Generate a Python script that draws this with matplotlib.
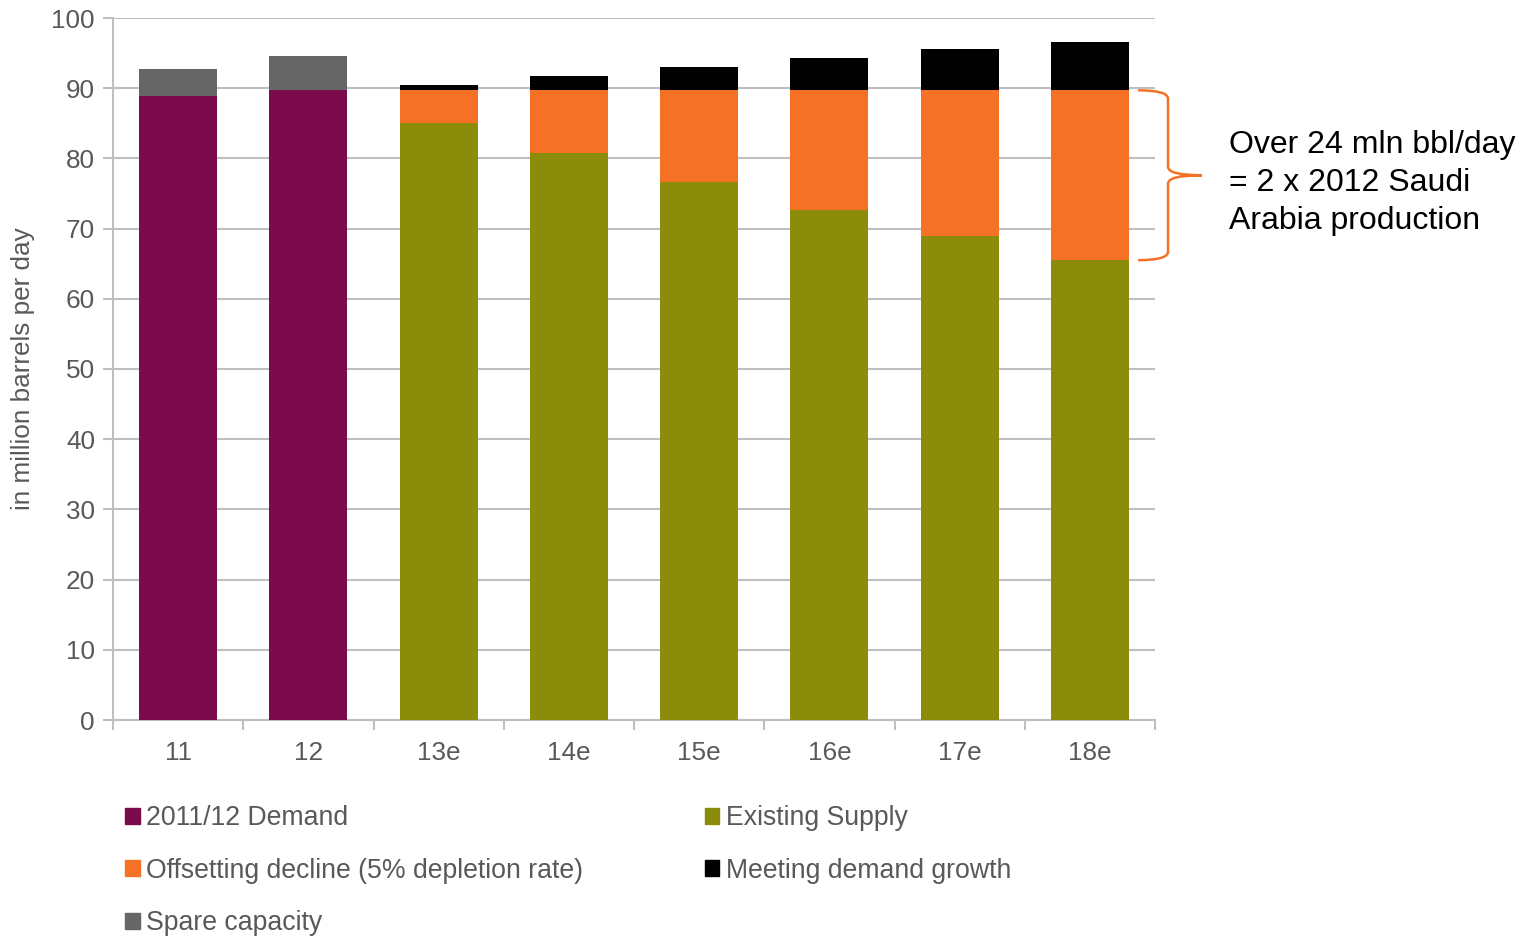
import matplotlib
matplotlib.use("Agg")
import matplotlib.pyplot as plt
from matplotlib.patches import Patch, PathPatch
from matplotlib.path import Path
import numpy as np

plt.rcParams['font.family'] = ['Liberation Sans', 'DejaVu Sans']

categories = ["11", "12", "13e", "14e", "15e", "16e", "17e", "18e"]
demand = [88.9, 89.7, 0, 0, 0, 0, 0, 0]
spare = [3.8, 4.9, 0, 0, 0, 0, 0, 0]
existing = [0, 0, 85.0, 80.8, 76.6, 72.6, 68.9, 65.5]
offsetting = [0, 0, 4.7, 8.9, 13.1, 17.1, 20.8, 24.2]
growth = [0, 0, 0.8, 2.0, 3.3, 4.6, 5.9, 6.9]

c_demand = "#7B0B4B"
c_existing = "#8C8C0B"
c_offset = "#F47126"
c_growth = "#000000"
c_spare = "#666666"
txt = "#595959"
grid = "#BFBFBF"
fs = 18.8

fig = plt.figure(figsize=(15.31, 9.36), dpi=100)
ax = fig.add_axes([113/1531, 1-720/936, (1155-113)/1531, (720-18)/936])

x = np.arange(len(categories))
w = 0.6
demand = np.array(demand); spare = np.array(spare)
existing = np.array(existing); offsetting = np.array(offsetting); growth = np.array(growth)
ax.bar(x, demand, w, color=c_demand, zorder=3)
ax.bar(x, spare, w, bottom=demand, color=c_spare, zorder=3)
ax.bar(x, existing, w, color=c_existing, zorder=3)
ax.bar(x, offsetting, w, bottom=existing, color=c_offset, zorder=3)
ax.bar(x, growth, w, bottom=existing + offsetting, color=c_growth, zorder=3)

ax.set_xlim(-0.5, len(categories) - 0.5)
ax.set_ylim(0, 100)
ax.set_yticks(np.arange(0, 101, 10))
ax.yaxis.grid(True, color=grid, linewidth=1.5, zorder=0)
ax.set_axisbelow(True)
for s in ["top", "right"]:
    ax.spines[s].set_visible(False)
for s in ["left", "bottom"]:
    ax.spines[s].set_color(grid)
    ax.spines[s].set_linewidth(1.5)
ax.tick_params(axis='y', colors=grid, labelcolor=txt, labelsize=fs, length=7, width=1.5, pad=6)
ax.set_xticks(x)
ax.set_xticklabels(categories)
ax.tick_params(axis='x', which='major', length=0, labelsize=fs, labelcolor=txt, pad=15)
ax.set_xticks(np.arange(-0.5, len(categories), 1.0), minor=True)
ax.tick_params(axis='x', which='minor', length=7, width=1.5, color=grid, direction='out')
ax.set_ylabel("in million barrels per day", fontsize=fs, color=txt, labelpad=12)

# curly brace spanning the 18e offsetting decline
i = len(categories) - 1
top = existing[i] + offsetting[i]
bot = existing[i]
mid = (top + bot) / 2
x0, xv, xt = i + 0.37, i + 0.60, i + 0.86
d = 1.2
verts = [(x0, top), (xv, top), (xv, top - d),
         (xv, mid + d), (xv, mid), (xt, mid),
         (xv, mid), (xv, mid - d),
         (xv, bot + d), (xv, bot), (x0, bot)]
codes = [Path.MOVETO, Path.CURVE3, Path.CURVE3,
         Path.LINETO, Path.CURVE3, Path.CURVE3,
         Path.CURVE3, Path.CURVE3,
         Path.LINETO, Path.CURVE3, Path.CURVE3]
ax.add_patch(PathPatch(Path(verts, codes), facecolor='none', edgecolor=c_offset, lw=1.8,
                       clip_on=False, zorder=4))

fig.text(1229/1531, 1-229/936, "Over 24 mln bbl/day\n= 2 x 2012 Saudi\nArabia production",
         fontsize=23, color="black", ha='left', va='baseline', linespacing=1.35)

handles = [Patch(color=c_demand), Patch(color=c_offset), Patch(color=c_spare),
           Patch(color=c_existing), Patch(color=c_growth)]
labels = ["2011/12 Demand", "Offsetting decline (5% depletion rate)", "Spare capacity",
          "Existing Supply", "Meeting demand growth"]
leg = fig.legend(handles, labels, ncol=2, loc='upper left', bbox_to_anchor=(125/1531, 1-805/936),
                 frameon=False, fontsize=19.2, handlelength=0.55, handleheight=0.55,
                 handletextpad=0.25, labelspacing=1.0, columnspacing=4.55, borderpad=0,
                 borderaxespad=0)
for t in leg.get_texts():
    t.set_color(txt)

fig.savefig("out.png", dpi=100)
